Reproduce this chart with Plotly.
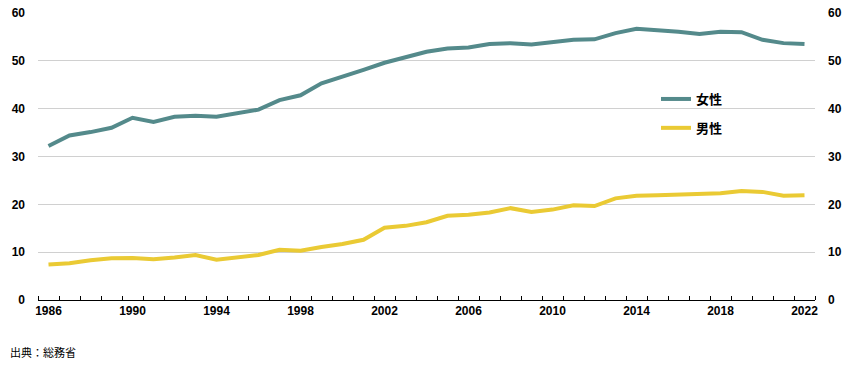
import plotly.graph_objects as go

years = list(range(1986, 2023))
female = [32.2, 34.4, 35.1, 36.0, 38.1, 37.2, 38.3, 38.5, 38.3, 39.0, 39.8, 41.8, 42.8,
          45.3, 46.6, 48.1, 49.6, 50.8, 51.9, 52.6, 52.8, 53.5, 53.7, 53.4, 53.8, 54.4,
          54.5, 55.8, 56.7, 56.5, 56.1, 55.6, 56.1, 56.0, 54.4, 53.7, 53.5]
male = [7.4, 7.7, 8.3, 8.75, 8.8, 8.5, 8.9, 9.4, 8.4, 8.8, 9.4, 10.5, 10.3,
        11.1, 11.7, 12.6, 15.1, 15.5, 16.25, 17.6, 17.8, 18.3, 19.2, 18.4, 18.9, 19.8,
        19.65, 21.25, 21.8, 21.9, 22.0, 22.0, 22.3, 22.8, 22.6, 21.8, 21.9]
x_tick_labels = [str(y) for y in range(1986, 2023, 4)]
y_ticks = [0, 10, 20, 30, 40, 50, 60]
series_names = ["女性", "男性"]
colors = ["#548A8B", "#EACA34"]
source = "出典：総務省"

fig = go.Figure()
fig.add_trace(go.Scatter(x=years, y=female, mode="lines", name=series_names[0],
                         line=dict(color=colors[0], width=4), legendgroup="f"))
fig.add_trace(go.Scatter(x=years, y=male, mode="lines", name=series_names[1],
                         line=dict(color=colors[1], width=4), legendgroup="m"))
fig.add_trace(go.Scatter(x=years, y=male, mode="lines", yaxis="y2", showlegend=False,
                         line=dict(color="rgba(0,0,0,0)", width=0), hoverinfo="skip"))

tick_font = dict(family="Liberation Sans, Arial, sans-serif", size=12, color="#000000", weight="bold")

L, R, T, B = 38, 34, 13, 65
PW, PH = 849 - L - R, 365 - T - B

fig.update_layout(
    width=849, height=365,
    margin=dict(l=L, r=R, t=T, b=B, pad=0, autoexpand=False),
    plot_bgcolor="white", paper_bgcolor="white",
    showlegend=True,
    legend=dict(x=(656 - L) / PW, y=(300 - 84) / PH, xanchor="left", yanchor="top",
                font=dict(family="Noto Sans CJK JP, sans-serif", size=13, color="#000000", weight="bold"),
                tracegroupgap=9, bgcolor="rgba(0,0,0,0)"),
    xaxis=dict(
        range=[1985.5, 2022.5], tickmode="array", automargin=False,
        tickvals=[int(t) for t in x_tick_labels], ticktext=x_tick_labels,
        ticks="", showgrid=False, zeroline=False,
        showline=True, linecolor="#000000", linewidth=1,
        tickfont=tick_font,
        minor=dict(tickmode="linear", tick0=1985.5, dtick=1, ticks="inside",
                   ticklen=4, tickcolor="#000000", tickwidth=1, showgrid=False),
    ),
    yaxis=dict(
        range=[0, 60], tickvals=y_ticks, showgrid=True, gridcolor="#D0D0D0", gridwidth=1,
        zeroline=False, showline=False, ticks="", ticklabelstandoff=12, automargin=False,
        tickfont=tick_font,
    ),
    yaxis2=dict(
        range=[0, 60], tickvals=y_ticks, overlaying="y", side="right", showgrid=False,
        zeroline=False, showline=False, ticks="", ticklabelstandoff=12, automargin=False,
        tickfont=tick_font,
    ),
    annotations=[dict(text=source, x=(8 - L) / PW, y=(300 - 352) / PH, xref="paper", yref="paper",
                      showarrow=False, xanchor="left", yanchor="middle",
                      font=dict(family="Noto Sans CJK JP, sans-serif", size=11, color="#000000"))],
)

fig.write_html("out.html", config={"displayModeBar": False},
               post_script="document.body.style.margin='0';")
